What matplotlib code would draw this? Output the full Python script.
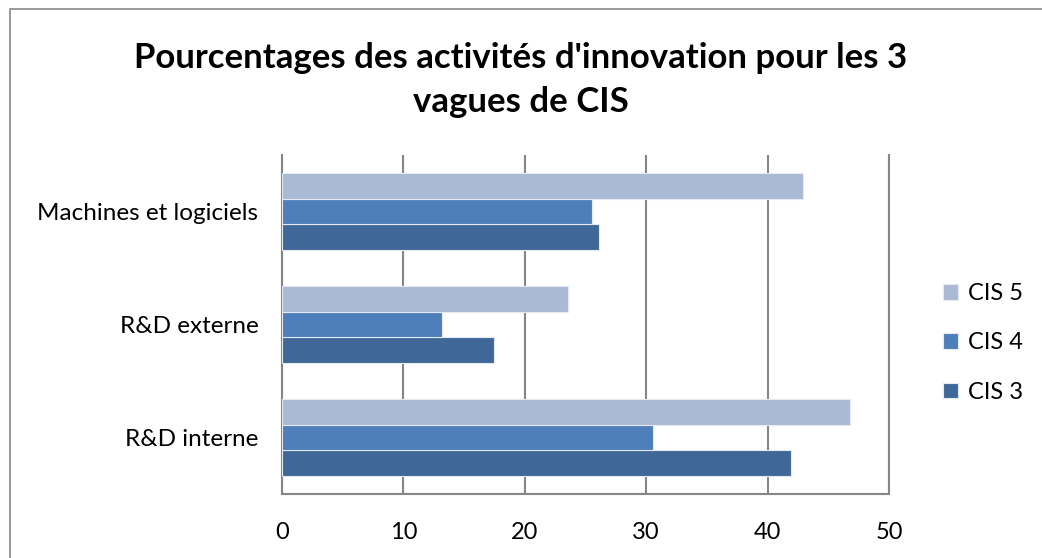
import matplotlib
matplotlib.use("Agg")
import matplotlib.pyplot as plt
import numpy as np
from matplotlib.patches import Rectangle

categories = ["R&D interne", "R&D externe", "Machines et logiciels"]
cis3 = [41.9, 17.5, 26.1]
cis4 = [30.6, 13.2, 25.5]
cis5 = [46.8, 23.55, 42.9]
series_names = ["CIS 3", "CIS 4", "CIS 5"]
colors = ["#3F6899", "#4E7FBB", "#AAB9D6"]
xticks = [0, 10, 20, 30, 40, 50]
title = "Pourcentages des activités d'innovation pour les 3\nvagues de CIS"

plt.rcParams['font.family'] = ['Lato', 'DejaVu Sans']

fig = plt.figure(figsize=(10.42, 5.58), dpi=100)
ax = fig.add_axes([282/1042, 1-494/558, (889-282)/1042, (494-155)/558])

y = np.arange(len(categories))
h = 0.227
offsets = [-h, 0, h]
handles = []
for vals, off, c, name in zip([cis3, cis4, cis5], offsets, colors, series_names):
    b = ax.barh(y + off, vals, height=h, color=c, edgecolor="#E4E9F2", linewidth=0.8, label=name, zorder=3)
    handles.append(b)

ax.set_xlim(0, 50)
ax.set_ylim(-0.5, 2.5)
ax.set_xticks(xticks)
ax.set_xticklabels([str(t) for t in xticks], fontsize=17)
ax.set_yticks(y)
ax.set_yticklabels(categories, fontsize=17.5)
ax.tick_params(length=0, pad=20, axis='x')
ax.tick_params(length=0, pad=17, axis='y')
ax.grid(axis='x', color="#868686", linewidth=1.5, zorder=0)
for s in ["top"]:
    ax.spines[s].set_visible(False)
for s in ["left", "bottom", "right"]:
    ax.spines[s].set_color("#868686")
    ax.spines[s].set_linewidth(1.5)

leg = fig.legend(handles[::-1], series_names[::-1], loc="center left",
                 bbox_to_anchor=(943/1042, 1-343/558), frameon=False,
                 fontsize=17, handlelength=0.65, handleheight=0.65,
                 labelspacing=1.2, handletextpad=0.4, borderaxespad=0,
                 borderpad=0)

fig.text(0.5, 1-80/558, title, ha="center", va="center", fontsize=25,
         fontweight="bold", linespacing=1.45)

frame = Rectangle((10/1042, -0.1), 1.2, 1-9/558+0.1, transform=fig.transFigure,
                  fill=False, edgecolor="#888888", linewidth=1.2)
fig.add_artist(frame)

fig.savefig("out.png", dpi=100)
